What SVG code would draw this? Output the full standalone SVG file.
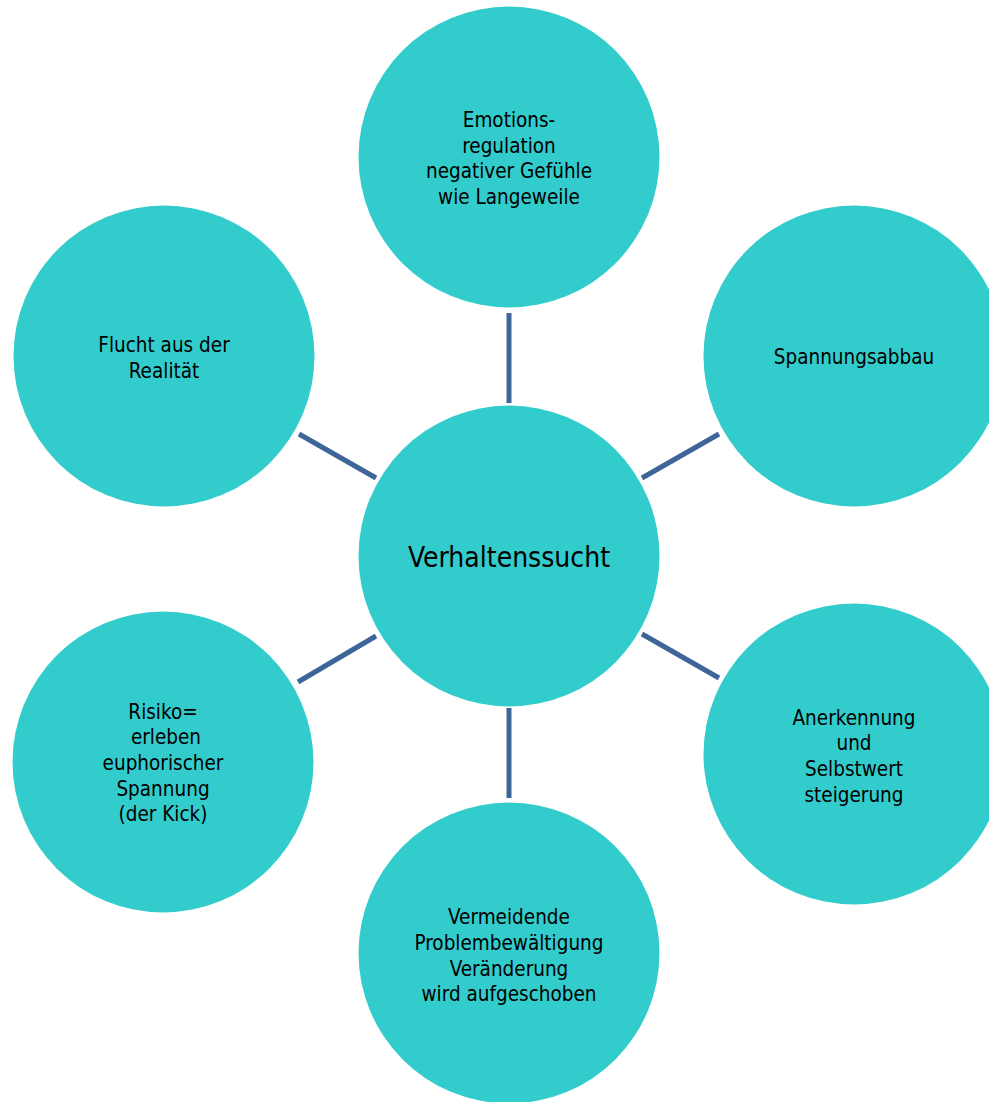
<svg xmlns="http://www.w3.org/2000/svg" width="989" height="1102" viewBox="0 0 989 1102">
<style>
.node{fill:#33CCCC;}
.lbl{font-family:"DejaVu Sans Condensed","DejaVu Sans",sans-serif;font-stretch:condensed;font-size:20.5px;fill:#000;text-anchor:middle;}
.big{font-size:28px;}
.conn{stroke:#3D6597;stroke-width:5;fill:none;}
</style>
<rect width="989" height="1102" fill="#fff"/>
<g id="connectors">
<line class="conn" x1="509" y1="313" x2="509" y2="403"/>
<line class="conn" x1="509" y1="708" x2="509" y2="798"/>
<line class="conn" x1="299" y1="434" x2="376" y2="478"/>
<line class="conn" x1="642" y1="478" x2="719" y2="434"/>
<line class="conn" x1="298" y1="682" x2="376" y2="636"/>
<line class="conn" x1="642" y1="634" x2="719" y2="678"/>
</g>
<g id="center">
<circle class="node" cx="509" cy="556" r="150.5"/>
<text class="lbl big" x="509" y="567">Verhaltenssucht</text>
</g>
<g id="top">
<circle class="node" cx="509" cy="157" r="150.5"/>
<text class="lbl" x="509" y="127">Emotions-</text>
<text class="lbl" x="509" y="153">regulation</text>
<text class="lbl" x="509" y="178">negativer Gefühle</text>
<text class="lbl" x="509" y="204">wie Langeweile</text>
</g>
<g id="topleft">
<circle class="node" cx="164" cy="356" r="150.5"/>
<text class="lbl" x="164" y="352">Flucht aus der</text>
<text class="lbl" x="164" y="378">Realität</text>
</g>
<g id="topright">
<circle class="node" cx="854" cy="356" r="150.5"/>
<text class="lbl" x="854" y="364">Spannungsabbau</text>
</g>
<g id="bottomleft">
<circle class="node" cx="163" cy="762" r="150.5"/>
<text class="lbl" x="163" y="719">Risiko=</text>
<text class="lbl" x="166" y="744">erleben</text>
<text class="lbl" x="163" y="770">euphorischer</text>
<text class="lbl" x="163" y="796">Spannung</text>
<text class="lbl" x="163" y="821">(der Kick)</text>
</g>
<g id="bottomright">
<circle class="node" cx="854" cy="754" r="150.5"/>
<text class="lbl" x="854" y="725">Anerkennung</text>
<text class="lbl" x="854" y="750">und</text>
<text class="lbl" x="854" y="776">Selbstwert</text>
<text class="lbl" x="854" y="802">steigerung</text>
</g>
<g id="bottom">
<circle class="node" cx="509" cy="953" r="150.5"/>
<text class="lbl" x="509" y="924">Vermeidende</text>
<text class="lbl" x="509" y="950">Problembewältigung</text>
<text class="lbl" x="509" y="976">Veränderung</text>
<text class="lbl" x="509" y="1001">wird aufgeschoben</text>
</g>
</svg>
